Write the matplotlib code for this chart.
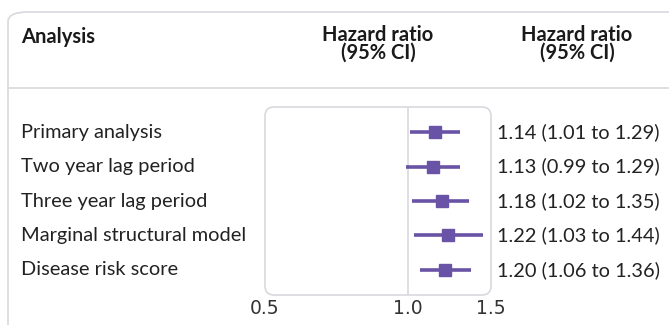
import matplotlib
matplotlib.use('Agg')
import matplotlib.pyplot as plt
from matplotlib.patches import FancyBboxPatch
from matplotlib.ticker import FixedLocator, NullLocator
import matplotlib.transforms as mtransforms

# Data
analyses = ['Primary analysis', 'Two year lag period', 'Three year lag period',
            'Marginal structural model', 'Disease risk score']
hr = [1.14, 1.13, 1.18, 1.22, 1.20]
ci_low = [1.01, 0.99, 1.02, 1.03, 1.06]
ci_high = [1.29, 1.29, 1.35, 1.44, 1.36]
ticks = [0.5, 1.0, 1.5]
tick_labels = ['0.5', '1.0', '1.5']

purple = '#6953a6'
grey = '#d8d9de'
W, H = 669, 325

fig = plt.figure(figsize=(W / 100, H / 100), dpi=100)

# outer rounded frame and header divider
frame = FancyBboxPatch((8 / W, -0.2), 1.2, 1 - 12 / H + 0.2,
                       boxstyle='round,pad=0,rounding_size=0.03',
                       transform=fig.transFigure, fc='none', ec=grey, lw=1.2)
fig.patches.append(frame)
fig.add_artist(plt.Line2D([8 / W, 1], [1 - 88 / H] * 2, transform=fig.transFigure,
                          color=grey, lw=1.2))

# header
hfont = dict(family='Lato', fontsize=14.5, fontweight='bold', color='#1a1a1a')
fig.text(21 / W, 1 - 37 / H, 'Analysis', ha='left', va='center', **hfont)
fig.text(378 / W, 1 - 44 / H, 'Hazard ratio\n(95% CI)', ha='center', va='center',
         ma='center', linespacing=0.82, **hfont)
fig.text(577 / W, 1 - 44 / H, 'Hazard ratio\n(95% CI)', ha='center', va='center',
         ma='center', linespacing=0.82, **hfont)

# forest axes
left, right = 265 / W, 491 / W
top, bottom = 1 - 107 / H, 1 - 295 / H
ax = fig.add_axes([left, bottom, right - left, top - bottom])
ax.set_xscale('log')
ax.set_xlim(0.5, 1.5)
ax.set_ylim(len(analyses) - 1 + 0.725, -0.725)
for s in ax.spines.values():
    s.set_visible(False)
ax.patch.set_visible(False)
ax.add_patch(FancyBboxPatch((0, 0), 1, 1, boxstyle='round,pad=0,rounding_size=0.04',
                            transform=ax.transAxes, fc='none', ec=grey, lw=1.2,
                            clip_on=False, mutation_aspect=226 / 188))
ax.axvline(1.0, color=grey, lw=1.2, zorder=1)

rows = list(range(len(analyses)))
ax.hlines(rows, ci_low, ci_high, color=purple, lw=2.6, zorder=2)
ax.plot(hr, rows, 's', color=purple, ms=8, zorder=3)

ax.xaxis.set_major_locator(FixedLocator(ticks))
ax.xaxis.set_minor_locator(NullLocator())
ax.set_xticklabels(tick_labels, family='DejaVu Sans', fontsize=13.5, color='#333333')
ax.tick_params(axis='x', length=0, pad=3)
ax.set_yticks([])

# row texts
tr_left = mtransforms.blended_transform_factory(fig.transFigure, ax.transData)
for i, name in enumerate(analyses):
    ax.text(21 / W, i, name, transform=tr_left, ha='left', va='center',
            family='Lato', fontsize=14.4, color='#222222')
    ax.text(497 / W, i, f'{hr[i]:.2f} ({ci_low[i]:.2f} to {ci_high[i]:.2f})',
            transform=tr_left, ha='left', va='center',
            family='Lato', fontsize=14.4, color='#222222')

fig.savefig('out.png', dpi=100)
